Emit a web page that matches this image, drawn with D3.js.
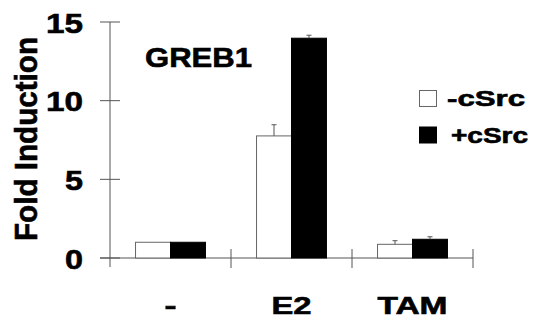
<!DOCTYPE html>
<html>
<head>
<meta charset="utf-8">
<script src="https://cdn.jsdelivr.net/npm/d3@7"></script>
<style>
  body { margin: 0; background: #fff; }
  text { font-family: "Liberation Sans", Arial, sans-serif; font-weight: bold; fill: #000; stroke: #000; stroke-width: 0.6px; }
</style>
</head>
<body>
<script>
// values
const categories = ["-", "E2", "TAM"];
const series = ["-cSrc", "+cSrc"];
const minusCSrc = [1.0, 7.76, 0.87];
const plusCSrc = [1.0, 13.97, 1.19];
const minusErr = [0, 0.71, 0.23];
const plusErr = [0, 0.19, 0.16];
const yTicks = [0, 5, 10, 15];

const width = 537, height = 322;
const svg = d3.select("body").append("svg")
    .attr("width", width)
    .attr("height", height);

let y = d3.scaleLinear().domain([0, 15]).range([258, 22]);
let x = d3.scaleBand().domain(categories).range([110, 473]);
let xs = d3.scaleBand().domain(series).range([0, x.bandwidth()]).paddingOuter(0.73);
let axisColor = "#555";

// y axis
svg.append("line")
    .attr("x1", 110).attr("x2", 110)
    .attr("y1", y(15)).attr("y2", y(0) + 9)
    .attr("stroke", axisColor);
svg.selectAll(".ytick").data(yTicks).join("line")
    .attr("class", "ytick")
    .attr("x1", 100).attr("x2", 120)
    .attr("y1", d => y(d)).attr("y2", d => y(d))
    .attr("stroke", axisColor);
svg.selectAll(".ylab").data(yTicks).join("text")
    .attr("class", "ylab")
    .attr("x", 83)
    .attr("y", d => y(d) + 10.5)
    .attr("text-anchor", "end")
    .style("font-size", "28px")
    .attr("textLength", d => d >= 10 ? 37 : 18)
    .attr("lengthAdjust", "spacingAndGlyphs")
    .text(d => d);

// x axis
svg.append("line")
    .attr("x1", 100).attr("x2", x.range()[1])
    .attr("y1", y(0)).attr("y2", y(0))
    .attr("stroke", axisColor);
let xTickPos = categories.map(c => x(c)).concat([x.range()[1]]);
svg.selectAll(".xtick").data(xTickPos.slice(1)).join("line")
    .attr("class", "xtick")
    .attr("x1", d => d).attr("x2", d => d)
    .attr("y1", y(0) - 9).attr("y2", y(0) + 10)
    .attr("stroke", axisColor);
let catLen = {"-": 12, "E2": 40, "TAM": 70};
svg.selectAll(".xlab").data(categories).join("text")
    .attr("class", "xlab")
    .attr("x", d => x(d) + x.bandwidth() / 2)
    .attr("y", 313.5)
    .attr("text-anchor", "middle")
    .style("font-size", "24px")
    .attr("textLength", d => catLen[d])
    .attr("lengthAdjust", "spacingAndGlyphs")
    .text(d => d);

// bars
let rows = [];
categories.forEach(function (c, i) {
    rows.push({cat: c, s: series[0], v: minusCSrc[i], e: minusErr[i]});
    rows.push({cat: c, s: series[1], v: plusCSrc[i], e: plusErr[i]});
});
svg.selectAll(".bar").data(rows).join("rect")
    .attr("class", "bar")
    .attr("x", d => x(d.cat) + xs(d.s))
    .attr("y", d => y(d.v))
    .attr("width", xs.bandwidth())
    .attr("height", d => y(0) - y(d.v))
    .attr("fill", d => d.s == "-cSrc" ? "#fff" : "#000")
    .attr("stroke", d => d.s == "-cSrc" ? "#666" : "#000")
    .attr("stroke-width", 1);

// error bars
let errRows = rows.filter(d => d.e > 0);
svg.selectAll(".err").data(errRows).join("line")
    .attr("class", "err")
    .attr("x1", d => x(d.cat) + xs(d.s) + xs.bandwidth() / 2)
    .attr("x2", d => x(d.cat) + xs(d.s) + xs.bandwidth() / 2)
    .attr("y1", d => y(d.v)).attr("y2", d => y(d.v + d.e))
    .attr("stroke", axisColor);
svg.selectAll(".cap").data(errRows).join("line")
    .attr("class", "cap")
    .attr("x1", d => x(d.cat) + xs(d.s) + xs.bandwidth() / 2 - 2.5)
    .attr("x2", d => x(d.cat) + xs(d.s) + xs.bandwidth() / 2 + 2.5)
    .attr("y1", d => y(d.v + d.e)).attr("y2", d => y(d.v + d.e))
    .attr("stroke", axisColor);

// y label
svg.append("text")
    .attr("transform", "translate(37,139) rotate(-90)")
    .attr("text-anchor", "middle")
    .style("font-size", "32px")
    .attr("textLength", 204)
    .attr("lengthAdjust", "spacingAndGlyphs")
    .text("Fold Induction");

// title
svg.append("text")
    .attr("x", 145).attr("y", 66.5)
    .style("font-size", "28px")
    .attr("textLength", 107)
    .attr("lengthAdjust", "spacingAndGlyphs")
    .text("GREB1");

// legend
let legend = svg.selectAll(".leg").data(series).join("g")
    .attr("class", "leg")
    .attr("transform", (d, i) => `translate(419,${90 + i * 36.5})`);
legend.append("rect")
    .attr("x", 0.5).attr("y", 0.5)
    .attr("width", 17).attr("height", 16)
    .attr("fill", (d, i) => i == 0 ? "#fff" : "#000")
    .attr("stroke", (d, i) => i == 0 ? "#666" : "#000");
legend.append("text")
    .attr("x", (d, i) => i == 0 ? 28 : 32)
    .attr("y", 16)
    .style("font-size", "22px")
    .attr("textLength", (d, i) => i == 0 ? 78 : 77)
    .attr("lengthAdjust", "spacingAndGlyphs")
    .text(d => d);
</script>
</body>
</html>
